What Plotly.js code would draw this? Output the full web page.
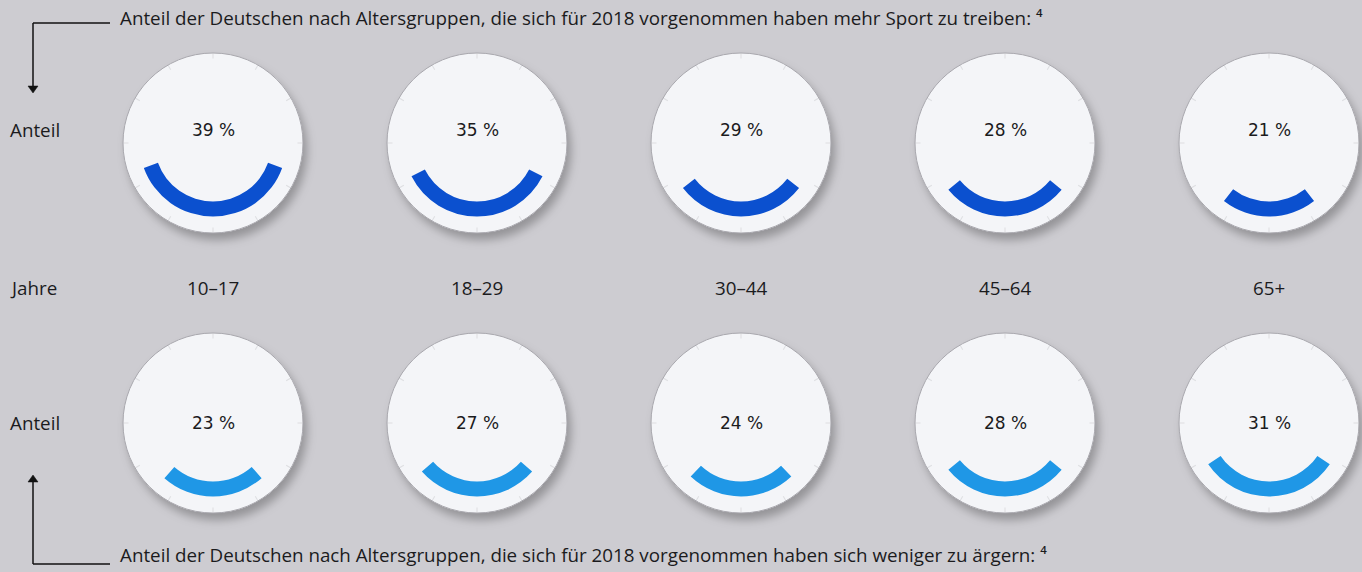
<!DOCTYPE html>
<html>
<head>
<meta charset="utf-8">
<script src="https://cdn.plot.ly/plotly-3.0.1.min.js"></script>
<style>
  html, body { margin:0; padding:0; background:#cdccd1; }
  #chart { width:1362px; height:572px; }
</style>
</head>
<body>
<div id="chart"></div>
<script>
// ---- data ----
const ageGroups   = ['10–17', '18–29', '30–44', '45–64', '65+'];
const sportShare  = [39, 35, 29, 28, 21];   // mehr Sport treiben (%)
const angerShare  = [23, 27, 24, 28, 31];   // weniger ärgern (%)
const topTitle    = 'Anteil der Deutschen nach Altersgruppen, die sich für 2018 vorgenommen haben mehr Sport zu treiben: ⁴';
const bottomTitle = 'Anteil der Deutschen nach Altersgruppen, die sich für 2018 vorgenommen haben sich weniger zu ärgern: ⁴';
const rowLabel    = 'Anteil';
const ageLabel    = 'Jahre';

// ---- layout helpers ----
const W = 1362, H = 572;
const centersX = [213, 477, 741, 1005, 1269];
const rows = [
  {cy: 143, values: sportShare, color: '#0b50cf', textY: 130},
  {cy: 423, values: angerShare, color: '#1f97e6', textY: 423}
];
const R = 90;          // dial radius (px) == radial range max
const arcInner = 58.5, arcThick = 15;
const labelFont = {family: 'Open Sans, DejaVu Sans, sans-serif', size: 18.8, color: '#1b1b1d'};

const data = [];
const layout = {
  width: W, height: H,
  margin: {l:0, r:0, t:0, b:0},
  paper_bgcolor: '#cdccd1',
  plot_bgcolor: '#cdccd1',
  showlegend: false,
  annotations: [],
  shapes: []
};

const px = x => x / W;
const py = y => 1 - y / H;
let k = 0;
rows.forEach((row, ri) => {
  row.values.forEach((v, i) => {
    k++;
    const key = k === 1 ? 'polar' : 'polar' + k;
    const cx = centersX[i];
    layout[key] = {
      domain: {x: [px(cx - R), px(cx + R)], y: [py(row.cy + R), py(row.cy - R)]},
      bgcolor: '#f4f5f8',
      hole: 0,
      radialaxis: {range: [0, R], visible: false, showgrid: false},
      angularaxis: {
        rotation: 90, direction: 'clockwise',
        showgrid: false, showticklabels: false,
        ticks: 'inside', ticklen: 5, tickwidth: 1, dtick: 30,
        tickcolor: 'rgba(120,120,130,0.18)',
        showline: true, linecolor: '#a9a8ae', linewidth: 1
      }
    };
    data.push({
      type: 'barpolar',
      subplot: key,
      r: [arcThick],
      base: [arcInner],
      theta: [180],
      width: [v * 3.6],
      marker: {color: row.color, line: {width: 0}},
      hoverinfo: 'skip'
    });
    layout.annotations.push({
      xref: 'paper', yref: 'paper', x: px(cx), y: py(row.textY),
      xanchor: 'center', yanchor: 'middle', showarrow: false,
      text: v + ' %',
      font: {family: 'DejaVu Sans, sans-serif', size: 17, color: '#1b1b1d'}
    });
  });
  layout.annotations.push({
    xref: 'paper', yref: 'paper', x: px(8), y: py(row.textY),
    xanchor: 'left', yanchor: 'middle', showarrow: false,
    text: rowLabel, font: labelFont
  });
});

// age group labels
layout.annotations.push({
  xref: 'paper', yref: 'paper', x: px(8), y: py(288),
  xanchor: 'left', yanchor: 'middle', showarrow: false,
  text: ageLabel, font: labelFont
});
ageGroups.forEach((g, i) => {
  layout.annotations.push({
    xref: 'paper', yref: 'paper', x: px(centersX[i]), y: py(288),
    xanchor: 'center', yanchor: 'middle', showarrow: false,
    text: g, font: labelFont
  });
});

// titles
layout.annotations.push({
  xref: 'paper', yref: 'paper', x: px(118), y: py(18),
  xanchor: 'left', yanchor: 'middle', showarrow: false,
  text: topTitle, font: labelFont
});
layout.annotations.push({
  xref: 'paper', yref: 'paper', x: px(118), y: py(555),
  xanchor: 'left', yanchor: 'middle', showarrow: false,
  text: bottomTitle, font: labelFont
});

// connector lines with arrowheads (decorative)
const ln = {color: '#111', width: 1.5};
layout.shapes.push({type: 'line', xref: 'paper', yref: 'paper', x0: px(33), x1: px(110), y0: py(23), y1: py(23), line: ln});
layout.shapes.push({type: 'line', xref: 'paper', yref: 'paper', x0: px(33), x1: px(33), y0: py(23), y1: py(86), line: ln});
layout.shapes.push({type: 'line', xref: 'paper', yref: 'paper', x0: px(33), x1: px(110), y0: py(564), y1: py(564), line: ln});
layout.shapes.push({type: 'line', xref: 'paper', yref: 'paper', x0: px(33), x1: px(33), y0: py(564), y1: py(482), line: ln});
layout.shapes.push({type: 'path', xref: 'paper', yref: 'paper',
  path: `M ${px(28)} ${py(86)} L ${px(38)} ${py(86)} L ${px(33)} ${py(93)} Z`,
  fillcolor: '#111', line: {color: '#111', width: 0.5}});
layout.shapes.push({type: 'path', xref: 'paper', yref: 'paper',
  path: `M ${px(28)} ${py(482)} L ${px(38)} ${py(482)} L ${px(33)} ${py(475)} Z`,
  fillcolor: '#111', line: {color: '#111', width: 0.5}});

Plotly.newPlot('chart', data, layout, {staticPlot: true, displayModeBar: false}).then(gd => {
  const svg = gd.querySelector('svg.main-svg');
  const ns = 'http://www.w3.org/2000/svg';
  let defs = svg.querySelector('defs');
  if (!defs) { defs = document.createElementNS(ns, 'defs'); svg.insertBefore(defs, svg.firstChild); }
  const f = document.createElementNS(ns, 'filter');
  f.setAttribute('id', 'dialShadow');
  f.setAttribute('x', '-30%'); f.setAttribute('y', '-30%');
  f.setAttribute('width', '160%'); f.setAttribute('height', '160%');
  const fe = document.createElementNS(ns, 'feDropShadow');
  fe.setAttribute('dx', '4'); fe.setAttribute('dy', '7');
  fe.setAttribute('stdDeviation', '5');
  fe.setAttribute('flood-color', '#000'); fe.setAttribute('flood-opacity', '0.28');
  f.appendChild(fe); defs.appendChild(f);
  gd.querySelectorAll('.plotbg path').forEach(p => p.setAttribute('filter', 'url(#dialShadow)'));
});
</script>
</body>
</html>
